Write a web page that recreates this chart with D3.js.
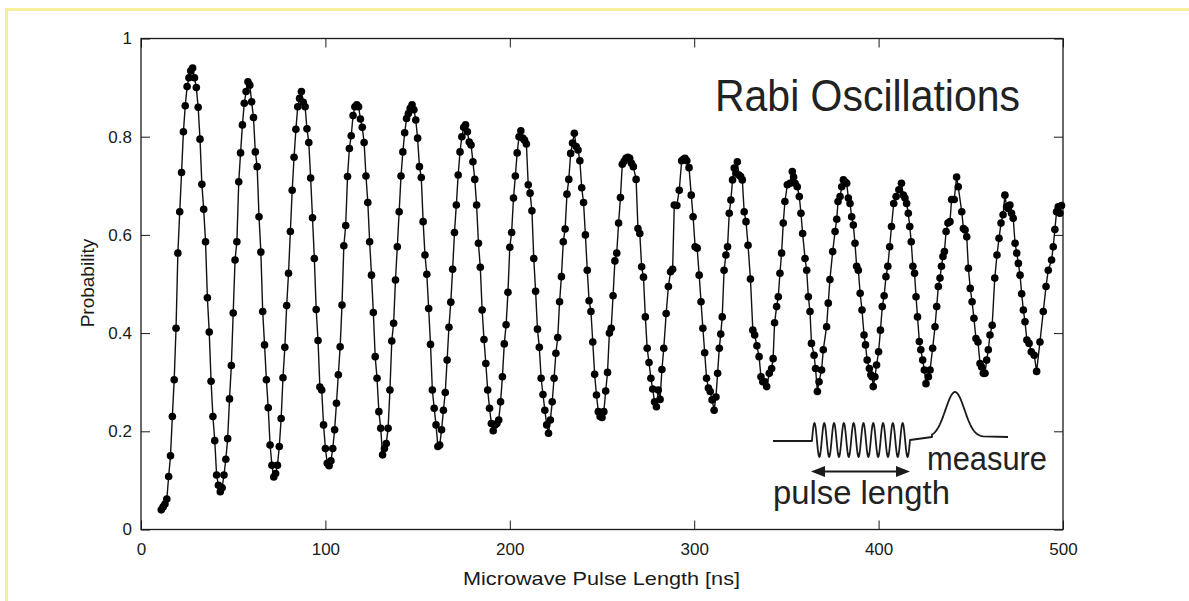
<!DOCTYPE html>
<html>
<head>
<meta charset="utf-8">
<script src="https://cdn.jsdelivr.net/npm/d3@7"></script>
<style>
  html, body { margin: 0; padding: 0; background: #fff; }
  svg { display: block; }
  text { font-family: "Liberation Sans", Arial, Helvetica, sans-serif; }
</style>
</head>
<body>
<svg id="chart" width="1189" height="601"></svg>
<script>
// axis ticks
const xTicks = [0, 100, 200, 300, 400, 500];
const yTicks = [0, 0.2, 0.4, 0.6, 0.8, 1];
const yTickLabels = ['0', '0.2', '0.4', '0.6', '0.8', '1'];

const pulseNs = [
  11,12,13,14,15,16,17,18,19,20,
  21,22,23,24,25,26,27,28,29,30,
  31,32,33,34,35,36,37,38,39,40,
  41,42,43,44,45,46,47,48,49,50,
  51,52,53,54,55,56,57,58,59,60,
  61,62,63,64,65,66,67,68,69,70,
  71,72,73,74,75,76,77,78,79,80,
  81,82,83,84,85,86,87,88,89,90,
  91,92,93,94,95,96,97,98,99,100,
  101,102,103,104,105,106,107,108,109,110,
  111,112,113,114,115,116,117,118,119,120,
  121,122,123,124,125,126,127,128,129,130,
  131,132,133,134,135,136,137,138,139,140,
  141,142,143,144,145,146,147,148,149,150,
  151,152,153,154,155,156,157,158,159,160,
  161,162,163,164,165,166,167,168,169,170,
  171,172,173,174,175,176,177,178,179,180,
  181,182,183,184,185,186,187,188,189,190,
  191,192,193,194,195,196,197,198,199,200,
  201,202,203,204,205,206,207,208,209,210,
  211,212,213,214,215,216,217,218,219,220,
  221,222,223,224,225,226,227,228,229,230,
  231,232,233,234,235,236,237,238,239,240,
  241,242,243,244,245,246,247,248,249,250,
  251,252,253,254,255,256,257,258,259,260,
  261,262,263,264,265,266,267,
  268.5,269.5,270.5,271.5,272.5,273.5,274.5,275.5,276.5,277.5,
  278.5,279.5,280.5,281.5,282.5,283.5,284.8,286,287.2,288.3,
  289.2,290.6,291.9,293.2,294.2,295,296,297.2,298.4,299.4,
  300.5,301.6,302.7,303.7,304.7,305.7,306.7,307.7,308.7,309.7,
  310.8,311.8,312.7,313.6,314.4,315.2,316.2,317.2,318.1,319,
  319.9,320.8,321.7,322.6,323.4,324.3,325.2,326.1,327.1,328.1,
  329.2,330.5,331.8,332.8,334,335.2,336.2,337.2,338.3,339.3,
  340.7,342,342.8,343.6,344.7,345.6,346.5,347.4,348.3,349.2,
  350.5,351.9,353.2,353.9,354.7,355.9,357,357.9,358.8,360.1,
  361,361.9,362.8,363.6,365,365.8,366.8,367.7,369.1,370,
  371.8,372.7,373.6,375.1,376.4,377.3,378,379.1,380,380.9,
  381.8,382.7,383.6,384.5,385.4,386.3,387.2,388.1,389,390,
  391,392.1,392.9,393.8,395,395.8,396.5,397.1,398,398.9,
  400,401,402,403,404,405,406,407,408.2,409.5,
  411,412.4,413.4,414.3,415.2,416.1,416.9,417.7,418.6,419.5,
  420.3,421.1,422.1,422.9,423.9,424.8,425.7,427,427.9,429.3,
  430.6,431.5,432.4,433.3,434.1,434.9,435.7,436.6,437.6,438.7,
  439.6,441,442.3,443.2,445.1,446,446.9,447.8,448.7,449.7,
  450.7,451.7,452.8,453.9,455,455.9,456.8,457.7,458.6,459.5,
  460.4,461.6,463,464.2,465.3,466.4,467.5,468.5,469.4,470.3,
  471.2,472.1,473,474,474.9,475.8,476.7,477.6,478.5,479.4,
  480.4,481.6,482.8,484.4,485.7,487.5,489.3,490.8,492,493.8,
  494.7,495.6,496.5,497.4,498.3,499.2
];

const probability = [
  0.040,0.046,0.052,0.062,0.108,0.150,0.230,0.305,0.410,0.563,
  0.647,0.727,0.810,0.863,0.902,0.920,0.934,0.940,0.920,0.900,
  0.860,0.795,0.703,0.652,0.586,0.472,0.402,0.302,0.230,0.181,
  0.111,0.090,0.077,0.085,0.111,0.143,0.185,0.266,0.334,0.441,
  0.549,0.586,0.708,0.767,0.824,0.868,0.892,0.912,0.905,0.871,
  0.839,0.769,0.739,0.637,0.565,0.444,0.376,0.305,0.248,0.172,
  0.131,0.107,0.114,0.131,0.169,0.226,0.309,0.371,0.456,0.522,
  0.607,0.691,0.758,0.815,0.861,0.878,0.892,0.870,0.861,0.816,
  0.788,0.716,0.635,0.552,0.448,0.385,0.290,0.284,0.213,0.165,
  0.135,0.130,0.140,0.165,0.203,0.257,0.315,0.372,0.457,0.578,
  0.619,0.719,0.776,0.802,0.843,0.861,0.865,0.861,0.836,0.819,
  0.788,0.720,0.666,0.586,0.518,0.442,0.352,0.308,0.240,0.206,
  0.152,0.165,0.175,0.206,0.284,0.384,0.420,0.508,0.576,0.647,
  0.720,0.769,0.808,0.837,0.847,0.858,0.865,0.855,0.834,0.797,
  0.739,0.717,0.627,0.559,0.520,0.450,0.377,0.284,0.247,0.213,
  0.169,0.172,0.203,0.243,0.279,0.345,0.412,0.463,0.530,0.605,
  0.661,0.722,0.769,0.800,0.819,0.824,0.810,0.789,0.783,0.749,
  0.713,0.661,0.583,0.534,0.447,0.387,0.338,0.284,0.247,0.216,
  0.201,0.213,0.216,0.223,0.260,0.311,0.378,0.417,0.483,0.575,
  0.605,0.675,0.720,0.767,0.800,0.812,0.797,0.793,0.785,0.702,
  0.685,0.649,0.552,0.485,0.408,0.371,0.308,0.275,0.243,0.213,
  0.196,0.223,0.260,0.308,0.359,0.391,0.464,0.515,0.586,0.612,
  0.683,0.713,0.766,0.787,0.807,0.780,0.773,0.751,0.696,0.666,
  0.600,0.528,0.466,0.444,0.382,0.316,0.274,0.240,0.230,0.228,
  0.240,0.282,0.320,0.400,0.410,0.476,0.547,0.563,0.624,0.676,
  0.744,0.750,0.756,0.758,0.756,0.746,0.739,
  0.713,0.613,0.603,0.535,0.514,0.433,0.369,0.340,0.308,0.286,
  0.260,0.250,0.284,0.265,0.326,0.369,0.440,0.495,0.525,0.530,
  0.661,0.660,0.691,0.751,0.754,0.756,0.751,0.737,0.681,0.637,
  0.576,0.573,0.518,0.464,0.410,0.360,0.308,0.288,0.281,0.264,
  0.243,0.270,0.318,0.369,0.398,0.433,0.528,0.559,0.576,0.644,
  0.671,0.712,0.736,0.726,0.749,0.722,0.719,0.712,0.647,0.627,
  0.579,0.510,0.406,0.396,0.374,0.352,0.311,0.301,0.301,0.291,
  0.318,0.328,0.348,0.421,0.454,0.474,0.522,0.563,0.624,0.668,
  0.702,0.705,0.729,0.718,0.705,0.698,0.678,0.644,0.603,0.552,
  0.528,0.474,0.444,0.379,0.355,0.328,0.281,0.301,0.325,0.366,
  0.413,0.461,0.509,0.566,0.607,0.632,0.668,0.678,0.698,0.712,
  0.708,0.705,0.675,0.664,0.637,0.620,0.583,0.536,0.528,0.481,
  0.447,0.396,0.376,0.345,0.328,0.315,0.311,0.291,0.311,0.335,
  0.362,0.406,0.454,0.476,0.515,0.536,0.576,0.617,0.664,0.678,
  0.692,0.705,0.681,0.675,0.664,0.644,0.617,0.586,0.536,0.522,
  0.474,0.433,0.383,0.366,0.345,0.325,0.297,0.311,0.325,0.369,
  0.413,0.454,0.495,0.512,0.536,0.556,0.566,0.607,0.624,0.627,
  0.672,0.672,0.718,0.698,0.647,0.613,0.610,0.596,0.532,0.491,
  0.464,0.430,0.389,0.382,0.338,0.331,0.318,0.318,0.345,0.366,
  0.396,0.416,0.512,0.559,0.593,0.624,0.641,0.681,0.657,0.654,
  0.661,0.644,0.634,0.583,0.563,0.542,0.518,0.480,0.447,0.423,
  0.386,0.379,0.362,0.355,0.322,0.382,0.444,0.495,0.528,0.549,
  0.576,0.611,0.647,0.657,0.644,0.660
];

if (pulseNs.length !== probability.length) console.error('data length mismatch', pulseNs.length, probability.length);

const plot = { left: 141, right: 1063, top: 38.5, bottom: 529.5 };
const tickLen = 9;
const ink = '#1a1a1a';

const x = d3.scaleLinear().domain([0, 500]).range([plot.left, plot.right]);
const y = d3.scaleLinear().domain([0, 1]).range([plot.bottom, plot.top]);

const svg = d3.select('#chart');

// pale yellow page frame (top and left only)
svg.append('path')
  .attr('d', 'M6.5,601 V9.5 H1189')
  .attr('fill', 'none')
  .attr('stroke', '#f7ee9c')
  .attr('stroke-width', 3);

function styleAxis(g, fontSize) {
  g.attr('font-family', '"Liberation Sans", Arial, Helvetica, sans-serif')
    .attr('font-size', fontSize)
    .attr('color', ink);
  g.select('.domain').remove();
  g.selectAll('.tick line').attr('stroke-width', 1);
}

// bottom axis with labels, ticks pointing inward
svg.append('g')
  .attr('transform', 'translate(0,' + plot.bottom + ')')
  .call(d3.axisBottom(x).tickValues(xTicks).tickSizeInner(-tickLen).tickSizeOuter(0).tickPadding(13))
  .call(g => styleAxis(g, 17));

// top axis, ticks only
svg.append('g')
  .attr('transform', 'translate(0,' + plot.top + ')')
  .call(d3.axisTop(x).tickValues(xTicks).tickSizeInner(-tickLen).tickSizeOuter(0).tickFormat(''))
  .call(g => styleAxis(g, 17));

// left axis with labels
svg.append('g')
  .attr('transform', 'translate(' + plot.left + ',0)')
  .call(d3.axisLeft(y).tickValues(yTicks).tickSizeInner(-tickLen).tickSizeOuter(0).tickPadding(9)
    .tickFormat((d, i) => yTickLabels[i]))
  .call(g => styleAxis(g, 17));

// right axis, ticks only
svg.append('g')
  .attr('transform', 'translate(' + plot.right + ',0)')
  .call(d3.axisRight(y).tickValues(yTicks).tickSizeInner(-tickLen).tickSizeOuter(0).tickFormat(''))
  .call(g => styleAxis(g, 17));

// axes box
svg.append('rect')
  .attr('x', plot.left).attr('y', plot.top)
  .attr('width', plot.right - plot.left).attr('height', plot.bottom - plot.top)
  .attr('fill', 'none').attr('stroke', ink).attr('stroke-width', 1.3);

// data: connecting line then dots
const idx = d3.range(pulseNs.length);
const line = d3.line()
  .x(i => x(pulseNs[i]))
  .y(i => y(probability[i]));

svg.append('path')
  .datum(idx)
  .attr('d', line)
  .attr('fill', 'none')
  .attr('stroke', '#111')
  .attr('stroke-width', 1.4);

svg.append('g')
  .selectAll('circle')
  .data(idx)
  .enter()
  .append('circle')
  .attr('cx', i => x(pulseNs[i]))
  .attr('cy', i => y(probability[i]))
  .attr('r', 3.8)
  .attr('fill', '#000');

// axis titles
svg.append('text')
  .attr('x', 463).attr('y', 585)
  .attr('font-size', 19)
  .attr('textLength', 277).attr('lengthAdjust', 'spacingAndGlyphs')
  .attr('fill', ink)
  .text('Microwave Pulse Length [ns]');

svg.append('text')
  .attr('transform', 'translate(94,283) rotate(-90)')
  .attr('text-anchor', 'middle')
  .attr('font-size', 19)
  .attr('fill', ink)
  .text('Probability');

// title inside the plot
svg.append('text')
  .attr('x', 715).attr('y', 111)
  .attr('font-size', 44)
  .attr('textLength', 305).attr('lengthAdjust', 'spacingAndGlyphs')
  .attr('fill', '#222')
  .text('Rabi Oscillations');

// inset schematic: microwave drive pulse followed by measure pulse
const drive = [[773, 441], [812, 441]];
for (let k = 0; k <= 200; k++) {
  const xx = 812 + (910 - 812) * k / 200;
  drive.push([xx, 440 - 17 * Math.sin(2 * Math.PI * 10 * k / 200)]);
}
drive.push([932, 437]);
for (let k = 0; k <= 60; k++) {
  const xx = 932 + (983 - 932) * k / 60;
  drive.push([xx, 437 - 45 * Math.exp(-Math.pow(xx - 955, 2) / (2 * 9.5 * 9.5))]);
}
drive.push([1008, 437]);

svg.append('path')
  .attr('d', d3.line()(drive))
  .attr('fill', 'none')
  .attr('stroke', ink)
  .attr('stroke-width', 1.8)
  .attr('stroke-linejoin', 'round');

// double headed arrow under the drive pulse
svg.append('line')
  .attr('x1', 822).attr('x2', 899).attr('y1', 471.5).attr('y2', 471.5)
  .attr('stroke', ink).attr('stroke-width', 2);
svg.append('path')
  .attr('d', 'M811,471.5 L825,466 L825,477 Z M910,471.5 L896,466 L896,477 Z')
  .attr('fill', ink);

svg.append('text')
  .attr('x', 927).attr('y', 470)
  .attr('font-size', 33)
  .attr('textLength', 120).attr('lengthAdjust', 'spacingAndGlyphs')
  .attr('fill', '#222')
  .text('measure');

svg.append('text')
  .attr('x', 773).attr('y', 504)
  .attr('font-size', 33)
  .attr('textLength', 177).attr('lengthAdjust', 'spacingAndGlyphs')
  .attr('fill', '#222')
  .text('pulse length');
</script>
</body>
</html>
